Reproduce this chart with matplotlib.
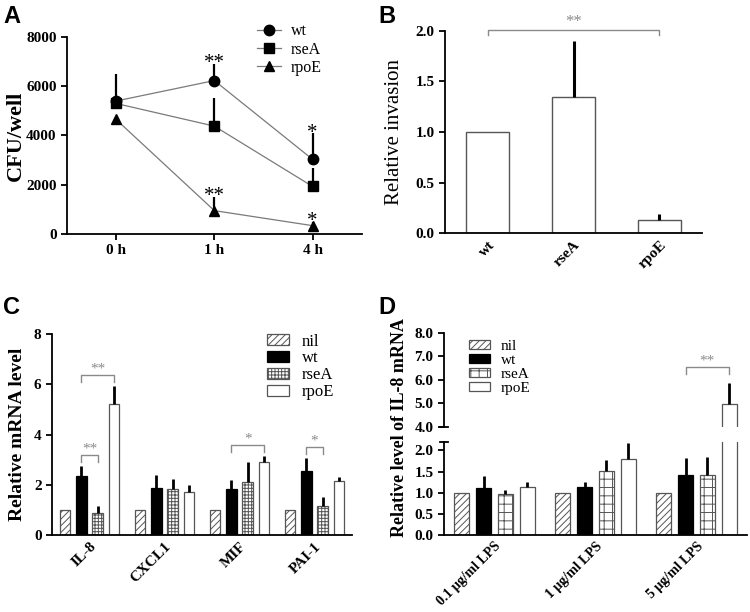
import numpy as np
import matplotlib
matplotlib.use("Agg")
import matplotlib.pyplot as plt

plt.rcParams['font.family'] = ['Liberation Serif', 'DejaVu Serif']
plt.rcParams['hatch.linewidth'] = 0.7

# ---- panel A: CFU per well over time
times = ['0 h', '1 h', '4 h']
strains = ['wt', 'rseA', 'rpoE']
wt_cfu = [5400, 6230, 3030]
wt_cfu_err = [1100, 690, 1060]
rsea_cfu = [5300, 4380, 1930]
rsea_cfu_err = [0, 1130, 770]
rpoe_cfu = [4650, 950, 340]
rpoe_cfu_err = [0, 570, 150]
stars_a = [(0, 1, '**'), (0, 2, '*'), (2, 1, '**'), (2, 2, '*')]

# ---- panel B: relative invasion
invasion = [1.0, 1.35, 0.13]
invasion_err = [0.0, 0.55, 0.06]

# ---- panel C: cytokine mRNA
genes = ['IL-8', 'CXCL1', 'MIF', 'PAI-1']
groups = ['nil', 'wt', 'rseA', 'rpoE']
c_nil = [1.0, 1.0, 1.0, 1.0]
c_nil_err = [0, 0, 0, 0]
c_wt = [2.35, 1.86, 1.82, 2.53]
c_wt_err = [0.40, 0.51, 0.36, 0.55]
c_rsea = [0.89, 1.82, 2.10, 1.17]
c_rsea_err = [0.27, 0.41, 0.80, 0.33]
c_rpoe = [5.22, 1.73, 2.90, 2.13]
c_rpoe_err = [0.72, 0.26, 0.26, 0.16]
sig_c = [(0, 1, 3, '**'), (0, 1, 2, '**'), (2, 1, 3, '*'), (3, 1, 2, '*')]

# ---- panel D: IL-8 mRNA vs LPS dose
doses = ['0.1 μg/ml LPS', '1 μg/ml LPS', '5 μg/ml LPS']
d_nil = [1.0, 1.0, 1.0]
d_nil_err = [0, 0, 0]
d_wt = [1.10, 1.14, 1.41]
d_wt_err = [0.30, 0.12, 0.42]
d_rsea = [0.97, 1.52, 1.43]
d_rsea_err = [0.10, 0.25, 0.41]
d_rpoe = [1.13, 1.79, 4.98]
d_rpoe_err = [0.13, 0.39, 0.90]
sig_d = [(2, 1, 3, '**')]

SIG_COLOR = '#8a8a8a'


def style_axes(ax, xticks_out=False, xsize=10.5):
    ax.spines['top'].set_visible(False)
    ax.spines['right'].set_visible(False)
    ax.spines['left'].set_linewidth(1.3)
    ax.spines['bottom'].set_linewidth(1.3)
    ax.tick_params(axis='y', direction='out', length=4, width=1.3, labelsize=11)
    if xticks_out:
        ax.tick_params(axis='x', direction='out', length=4, width=1.3, labelsize=11)
    else:
        ax.tick_params(axis='x', length=0, labelsize=xsize)
    for lab in ax.get_yticklabels() + ax.get_xticklabels():
        lab.set_fontweight('bold')


def bracket(ax, x1, x2, y, drop, label, fs=11):
    ax.plot([x1, x1, x2, x2], [y - drop, y, y, y - drop], color=SIG_COLOR,
            lw=1.0, clip_on=False)
    ax.text((x1 + x2) / 2, y, label, ha='center', va='bottom', color=SIG_COLOR,
            fontsize=fs, clip_on=False)


fig = plt.figure(figsize=(7.5, 6.12), dpi=100)

# =========== A
axA = fig.add_axes([0.0893, 0.6176, 0.393, 0.322])
xa = np.arange(len(times))
series_a = [(wt_cfu, wt_cfu_err, 'o'), (rsea_cfu, rsea_cfu_err, 's'),
            (rpoe_cfu, rpoe_cfu_err, '^')]
for (vals, err, mk), name in zip(series_a, strains):
    axA.errorbar(xa, vals, yerr=[np.zeros(len(err)), err], fmt='none',
                 ecolor='black', elinewidth=1.6, capsize=0, zorder=2)
    axA.plot(xa, vals, color='#7a7a7a', lw=0.9, marker=mk, ms=7.5,
             mfc='black', mec='black', label=name, zorder=3)
for si, ti, lab in stars_a:
    vals, err, _ = series_a[si]
    axA.text(xa[ti], vals[ti] + err[ti] - 380, lab, ha='center', va='bottom',
             fontsize=15, color='black')
axA.set_xlim(-0.5, 2.5)
axA.set_ylim(0, 8000)
axA.set_xticks(xa)
axA.set_xticklabels(times)
axA.set_yticks([0, 2000, 4000, 6000, 8000])
axA.set_ylabel('CFU/well', fontsize=16, fontweight='bold')
axA.yaxis.set_label_coords(-0.14, 0.5)
style_axes(axA, xticks_out=True)
axA.legend(loc='upper left', bbox_to_anchor=(0.343, 0.962),
           bbox_transform=fig.transFigure, frameon=False, fontsize=11.5,
           handlelength=1.5, handletextpad=0.6, labelspacing=0.15,
           borderpad=0, borderaxespad=0)

# =========== B
axB = fig.add_axes([0.5933, 0.619, 0.343, 0.3306])
xb = np.arange(len(strains))
axB.bar(xb, invasion, width=0.5, color='white', edgecolor='#555555', lw=1.0)
axB.errorbar(xb, invasion, yerr=[np.zeros(3), invasion_err], fmt='none',
             ecolor='black', elinewidth=2.2, capsize=0)
axB.set_xlim(-0.5, 2.5)
axB.set_ylim(0, 2.0)
axB.set_yticks([0, 0.5, 1.0, 1.5, 2.0])
axB.set_yticklabels([f'{v:.1f}' for v in [0, 0.5, 1.0, 1.5, 2.0]])
axB.set_xticks(xb)
axB.set_xticklabels(strains, rotation=45, ha='right', rotation_mode='anchor')
axB.set_ylabel('Relative invasion', fontsize=15, labelpad=8)
style_axes(axB, xsize=11)
top_b = max(np.array(invasion) + np.array(invasion_err))
bracket(axB, xb[0], xb[2], top_b + 0.11, 0.05, '**', fs=12)

# =========== C / D grouped bars
bar_styles = [
    dict(color='white', edgecolor='#555555', hatch='/////'),
    dict(color='black', edgecolor='black'),
    None,  # rseA, set per panel
    dict(color='white', edgecolor='#555555'),
]


def grouped(ax, centers, series, errs, step, width, rsea_hatch, zorder=2):
    tops = []
    for k, (vals, err) in enumerate(zip(series, errs)):
        st = bar_styles[k] if bar_styles[k] is not None else \
            dict(color='white', edgecolor='#555555', hatch=rsea_hatch)
        xs = centers + (k - 1.5) * step
        ax.bar(xs, vals, width=width, lw=0.9, label=groups[k], zorder=zorder, **st)
        ax.errorbar(xs, vals, yerr=[np.zeros(len(err)), err], fmt='none',
                    ecolor='black', elinewidth=2.0, capsize=0, zorder=zorder + 1)
        tops.append(np.array(vals) + np.array(err))
    return np.array(tops)


axC = fig.add_axes([0.0693, 0.1258, 0.40, 0.3284])
xc = np.arange(len(genes))
step_c = 0.218
tops_c = grouped(axC, xc, [c_nil, c_wt, c_rsea, c_rpoe],
                 [c_nil_err, c_wt_err, c_rsea_err, c_rpoe_err],
                 step_c, 0.145, '+++++')
for g, i, j, lab in sig_c:
    y = tops_c[i:j + 1, g].max() + 0.42
    bracket(axC, xc[g] + (i - 1.5) * step_c, xc[g] + (j - 1.5) * step_c, y, 0.27, lab)
axC.set_xlim(-0.5, 3.5)
axC.set_ylim(0, 8)
axC.set_yticks([0, 2, 4, 6, 8])
axC.set_xticks(xc)
axC.set_xticklabels(genes, rotation=45, ha='right', rotation_mode='anchor')
axC.set_ylabel('Relative mRNA level', fontsize=14, fontweight='bold', labelpad=6)
style_axes(axC, xsize=11)
axC.legend(loc='upper left', bbox_to_anchor=(0.356, 0.455),
           bbox_transform=fig.transFigure, frameon=False, fontsize=12,
           handlelength=1.3, handleheight=0.65, handletextpad=0.8,
           labelspacing=0.05, borderpad=0, borderaxespad=0)

# D: broken axis
xd = np.arange(len(doses))
step_d = 0.215
d_series = [d_nil, d_wt, d_rsea, d_rpoe]
d_errs = [d_nil_err, d_wt_err, d_rsea_err, d_rpoe_err]

axD = fig.add_axes([0.592, 0.1258, 0.404, 0.152])
axDu = fig.add_axes([0.592, 0.3023, 0.404, 0.1536])
grouped(axD, xd, d_series, d_errs, step_d, 0.148, '++')
tops_d = grouped(axDu, xd, d_series, d_errs, step_d, 0.148, '++')
for ax in (axD, axDu):
    ax.set_xlim(-0.5, 2.5)
axD.set_ylim(0, 2.2)
axDu.set_ylim(4, 8)
axD.set_yticks([0, 0.5, 1.0, 1.5, 2.0])
axD.set_yticklabels([f'{v:.1f}' for v in [0, 0.5, 1.0, 1.5, 2.0]])
axDu.set_yticks([4, 5, 6, 7, 8])
axDu.set_yticklabels([f'{v:.1f}' for v in [4, 5, 6, 7, 8]])
axD.set_xticks(xd)
axD.set_xticklabels(doses, rotation=45, ha='right', rotation_mode='anchor')
style_axes(axD, xsize=10)
style_axes(axDu)
axDu.spines['bottom'].set_visible(False)
axDu.set_xticks([])
# break marks at the axis gap
axD.plot([-0.012, 0.012], [2.2, 2.2], color='black', lw=1.3,
         transform=axD.get_yaxis_transform(), clip_on=False)
axDu.plot([-0.012, 0.012], [4, 4], color='black', lw=1.3,
          transform=axDu.get_yaxis_transform(), clip_on=False)
for g, i, j, lab in sig_d:
    y = tops_d[i:j + 1, g].max() + 0.67
    bracket(axDu, xd[g] + (i - 1.5) * step_d, xd[g] + (j - 1.5) * step_d, y, 0.28, lab)
fig.text(0.533, 0.302, 'Relative level of IL-8 mRNA', rotation=90,
         ha='center', va='center', fontsize=13, fontweight='bold')
axDu.legend(loc='upper left', bbox_to_anchor=(0.625, 0.445),
            bbox_transform=fig.transFigure, frameon=False, fontsize=11,
            handlelength=1.4, handleheight=0.6, handletextpad=0.7,
            labelspacing=0.05, borderpad=0, borderaxespad=0)

# panel letters
for lab, x, y in [('A', 0.004, 0.992), ('B', 0.504, 0.992),
                  ('C', 0.004, 0.517), ('D', 0.504, 0.517)]:
    fig.text(x, y, lab, fontsize=17, fontweight='bold', family='Liberation Sans',
             ha='left', va='top')

fig.savefig('out.png', dpi=100, facecolor='white')
